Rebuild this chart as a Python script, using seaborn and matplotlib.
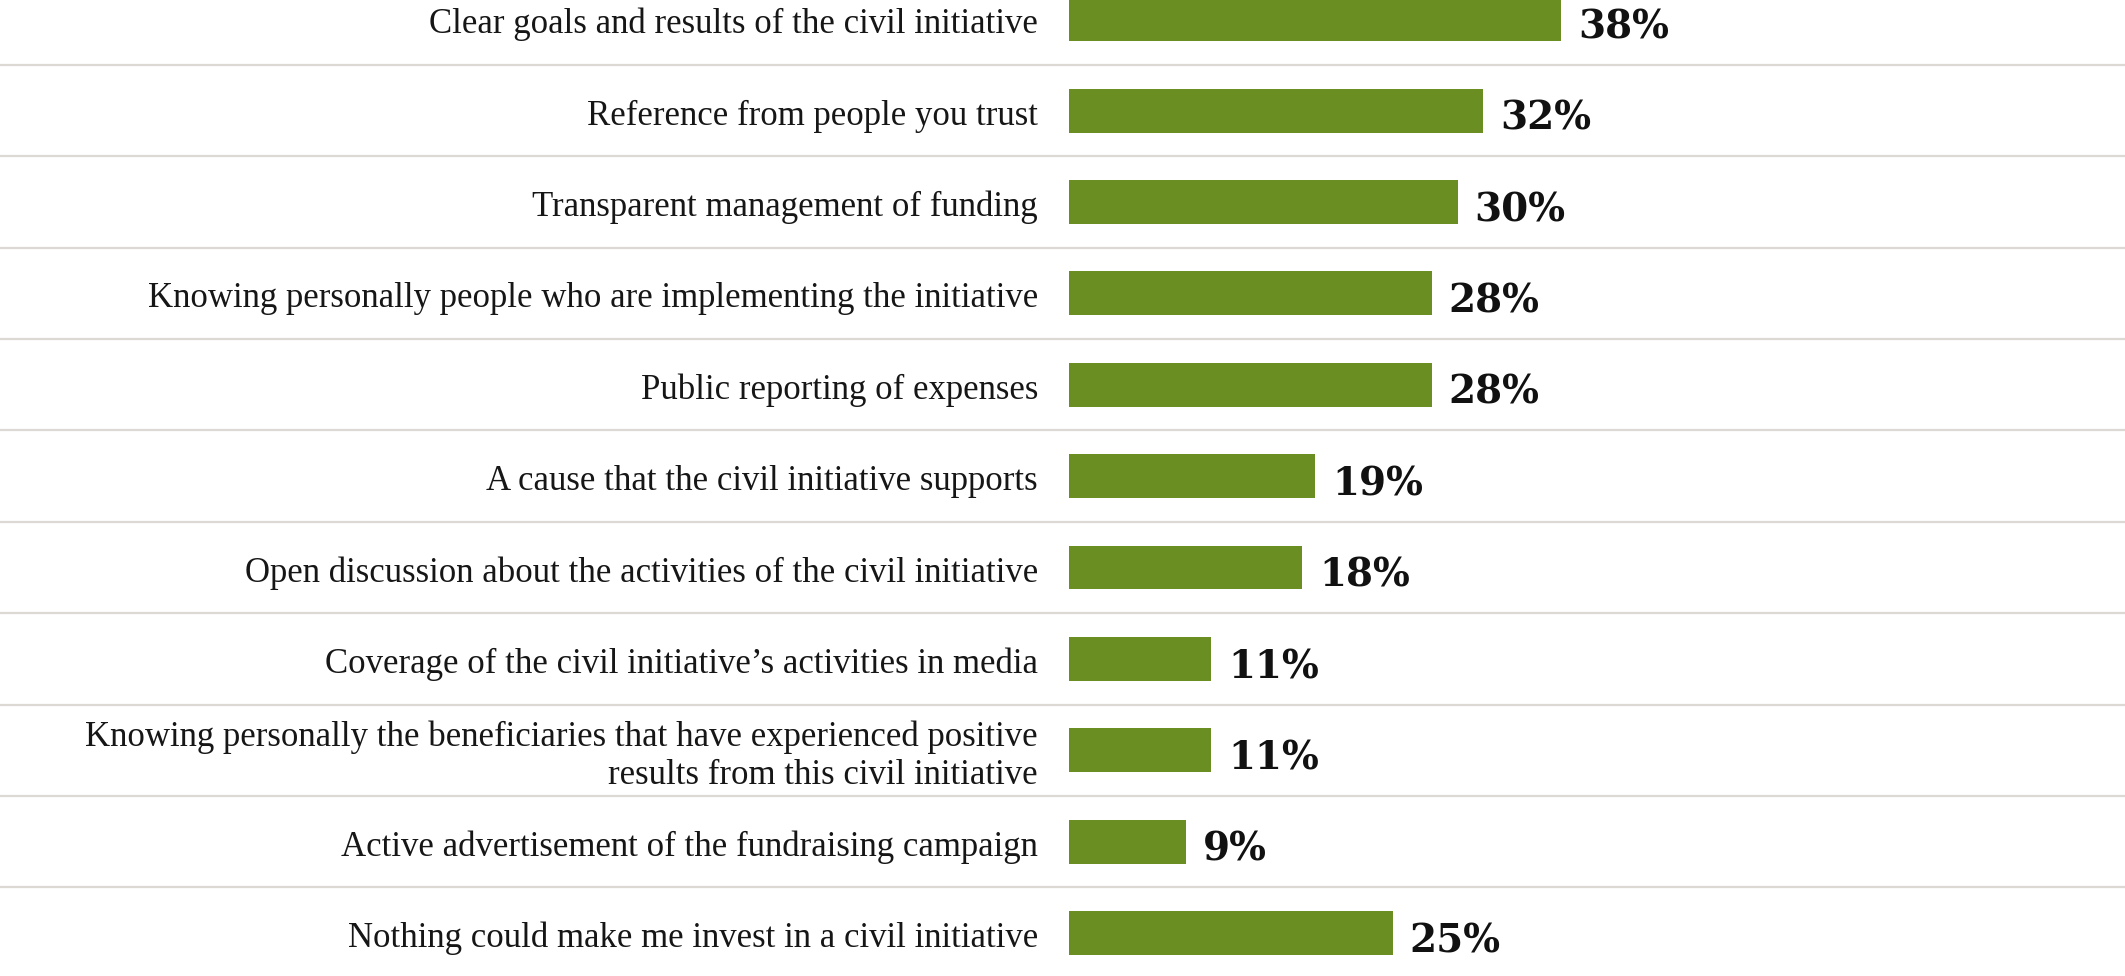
import matplotlib
matplotlib.use("Agg")
import pandas as pd
import seaborn as sns
import matplotlib.pyplot as plt

# survey answers, top to bottom
categories = [
    "Clear goals and results of the civil initiative",
    "Reference from people you trust",
    "Transparent management of funding",
    "Knowing personally people who are implementing the initiative",
    "Public reporting of expenses",
    "A cause that the civil initiative supports",
    "Open discussion about the activities of the civil initiative",
    "Coverage of the civil initiative\u2019s activities in media",
    "Knowing personally the beneficiaries that have experienced positive\nresults from this civil initiative",
    "Active advertisement of the fundraising campaign",
    "Nothing could make me invest in a civil initiative",
]
values = [38, 32, 30, 28, 28, 19, 18, 11, 11, 9, 25]

sns.set_theme(style="white")
plt.rcParams["font.family"] = ["Liberation Serif", "DejaVu Serif"]

df = pd.DataFrame({"item": categories, "share": values})

fig = plt.figure(figsize=(21.25, 9.76), dpi=100)
ax = fig.add_axes([0, 0, 1, 1])

sns.barplot(data=df, x="share", y="item", color="#6b8e23", saturation=1,
            width=0.48, linewidth=0, ax=ax)

# thin separators between rows, full width
for k in range(len(categories) - 1):
    ax.axhline(k + 0.5, color="#dcd9d4", lw=1.6, zorder=0)

# category labels to the left of the bars
for i, lab in enumerate(categories):
    ax.text(-2.4, i + 0.06, lab, ha="right", va="center", fontsize=25,
            color="#161616", linespacing=1.2)

# value labels, sitting a touch low like the old-style figures
for i, v in enumerate(values):
    ax.text(v + 1.3, i + 0.09, f"{v}%", ha="left", va="center", fontsize=28,
            fontweight="bold", family="DejaVu Serif", color="#111111")

ax.set_xlim(-82.55, 81.54)
ax.set_ylim(10.47, -0.21)
ax.set_xticks([])
ax.set_yticks([])
ax.set_xlabel("")
ax.set_ylabel("")
for s in ax.spines.values():
    s.set_visible(False)

fig.savefig("out.png", dpi=100, facecolor="white")
